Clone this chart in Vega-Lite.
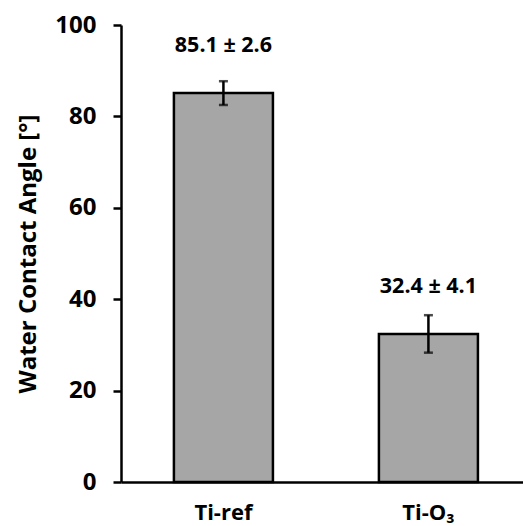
{
  "$schema": "https://vega.github.io/schema/vega-lite/v6.json",
  "width": 402,
  "height": 457,
  "autosize": {"type": "none"},
  "padding": {"left": 121, "top": 25, "right": 0, "bottom": 44},
  "background": "white",
  "config": {
    "view": {"stroke": null},
    "font": "Open Sans"
  },
  "data": {
    "values": [
      {"sample": "Ti-ref", "mean": 85.1, "sd": 2.6, "label": "85.1 ± 2.6"},
      {"sample": "Ti-O₃", "mean": 32.4, "sd": 4.1, "label": "32.4 ± 4.1"}
    ]
  },
  "encoding": {
    "x": {
      "field": "sample",
      "type": "nominal",
      "sort": null,
      "scale": {"paddingInner": 0.517, "paddingOuter": 0.239, "align": 0.54},
      "axis": {
        "title": null,
        "labelAngle": 0,
        "labelFont": "Open Sans",
        "labelFontSize": 22,
        "labelFontWeight": "bold",
        "labelColor": "black",
        "labelPadding": 20,
        "ticks": false,
        "domainColor": "black",
        "domainWidth": 2.5,
        "grid": false
      }
    }
  },
  "layer": [
    {
      "mark": {"type": "bar", "color": "#a6a6a6", "stroke": "black", "strokeWidth": 2.5},
      "encoding": {
        "y": {
          "field": "mean",
          "type": "quantitative",
          "title": "Water Contact Angle [°]",
          "scale": {"domain": [0, 100]},
          "axis": {
            "titleFont": "Open Sans",
            "titleFontSize": 24,
            "titleFontWeight": "bold",
            "titleColor": "black",
            "titlePadding": 14,
            "values": [0, 20, 40, 60, 80, 100],
            "labelFont": "Open Sans",
            "labelFontSize": 24,
            "labelFontWeight": "bold",
            "labelColor": "black",
            "labelPadding": 17,
            "tickSize": 8,
            "tickWidth": 2.5,
            "tickColor": "black",
            "domainColor": "black",
            "domainWidth": 2.5,
            "grid": false
          }
        }
      }
    },
    {
      "mark": {"type": "errorbar", "ticks": {"size": 9, "thickness": 2.5, "color": "black"}, "rule": {"strokeWidth": 2.5, "color": "black"}},
      "encoding": {
        "y": {"field": "mean", "type": "quantitative", "title": "Water Contact Angle [°]"},
        "yError": {"field": "sd"}
      }
    },
    {
      "mark": {"type": "text", "font": "Open Sans", "fontSize": 21.5, "fontWeight": "bold", "color": "black", "dy": -47, "baseline": "middle"},
      "encoding": {
        "y": {"field": "mean", "type": "quantitative"},
        "text": {"field": "label"}
      }
    }
  ]
}
